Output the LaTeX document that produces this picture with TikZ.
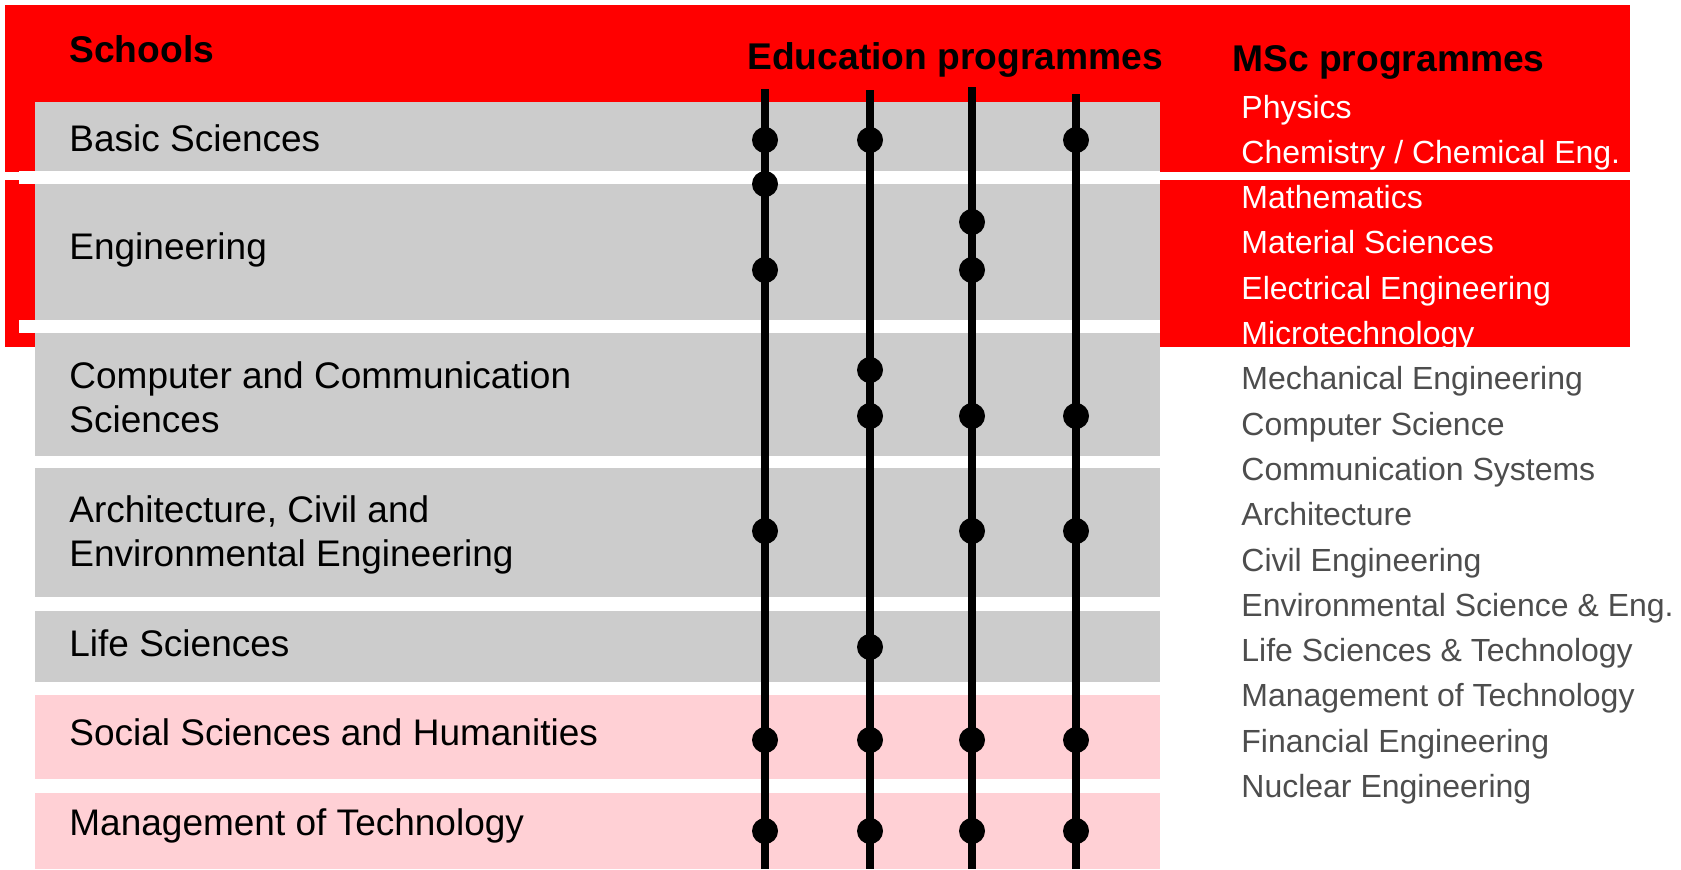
\documentclass[tikz,border=0pt]{standalone}
\usepackage{fontspec}
\setmainfont{Liberation Sans}
\definecolor{epred}{RGB}{255,0,0}
\definecolor{boxgray}{RGB}{204,204,204}
\definecolor{boxpink}{RGB}{255,208,213}
\definecolor{listgray}{RGB}{77,77,77}
\begin{document}
\begin{tikzpicture}[x=0.5pt,y=-0.5pt,
  school/.style={anchor=base west, inner sep=0pt, font=\fontsize{18.5}{22}\selectfont},
  head/.style={anchor=base west, inner sep=0pt, font=\fontsize{18.6}{22}\selectfont\bfseries},
  msc/.style={anchor=base west, inner sep=0pt, font=\fontsize{16}{20}\selectfont},
  progline/.style={line width=4pt, black},
  dot/.style={circle, fill=black, inner sep=0pt, minimum size=13pt}]
\useasboundingbox (0,0) rectangle (1681,869);
% red backgrounds
\fill[epred] (5,5) rectangle (1630,172);
\fill[epred] (5,180) rectangle (1630,347);
\fill[white] (19,171) rectangle (1160,184);
\fill[white] (19,320) rectangle (1160,333);
% school boxes
\fill[boxgray] (35,102) rectangle (1160,171);
\fill[boxgray] (35,184) rectangle (1160,320);
\fill[boxgray] (35,333) rectangle (1160,456);
\fill[boxgray] (35,468) rectangle (1160,597);
\fill[boxgray] (35,611) rectangle (1160,682);
\fill[boxpink] (35,695) rectangle (1160,779);
\fill[boxpink] (35,793) rectangle (1160,869);
% headers
\node[head] (hs) at (69,62) {Schools};
\node[head] (he) at (747,69) {Education programmes};
\node[head] (hm) at (1232,71) {MSc programmes};
% school labels
\node[school] (s1) at (69,151) {Basic Sciences};
\node[school] (s2) at (69,259) {Engineering};
\node[school] (s3) at (69,388) {\begin{tabular}[t]{@{}l@{}}Computer and Communication\\Sciences\end{tabular}};
\node[school] (s4) at (69,522) {\begin{tabular}[t]{@{}l@{}}Architecture, Civil and\\Environmental Engineering\end{tabular}};
\node[school] (s5) at (69,656) {Life Sciences};
\node[school] (s6) at (69,745) {Social Sciences and Humanities};
\node[school] (s7) at (69,835) {Management of Technology};
% programme lines
\coordinate (t1) at (765,89);  \coordinate (b1) at (765,869);
\coordinate (t2) at (870,90);  \coordinate (b2) at (870,869);
\coordinate (t3) at (972,87);  \coordinate (b3) at (972,869);
\coordinate (t4) at (1076,94); \coordinate (b4) at (1076,869);
\draw[progline] (t1) -- (b1);
\draw[progline] (t2) -- (b2);
\draw[progline] (t3) -- (b3);
\draw[progline] (t4) -- (b4);
% dots
\foreach \y [count=\i] in {140,184,270,531,740,831} \node[dot] (da\i) at (765,\y) {};
\foreach \y [count=\i] in {140,370,416,647,740,831} \node[dot] (db\i) at (870,\y) {};
\foreach \y [count=\i] in {222,270,416,531,740,831} \node[dot] (dc\i) at (972,\y) {};
\foreach \y [count=\i] in {140,416,531,740,831} \node[dot] (dd\i) at (1076,\y) {};
% MSc list
\foreach \t [count=\i] in {Physics,Chemistry / Chemical Eng.,Mathematics,Material Sciences,Electrical Engineering,Microtechnology}
  \node[msc, text=white] (m\i) at (1241,{118+45.3*(\i-1)}) {\t};
\foreach \t [count=\i from 7] in {Mechanical Engineering,Computer Science,Communication Systems,Architecture,Civil Engineering,Environmental Science \& Eng.,Life Sciences \& Technology,Management of Technology,Financial Engineering,Nuclear Engineering}
  \node[msc, text=listgray] (m\i) at (1241,{118+45.3*(\i-1)}) {\t};
\end{tikzpicture}
\end{document}
